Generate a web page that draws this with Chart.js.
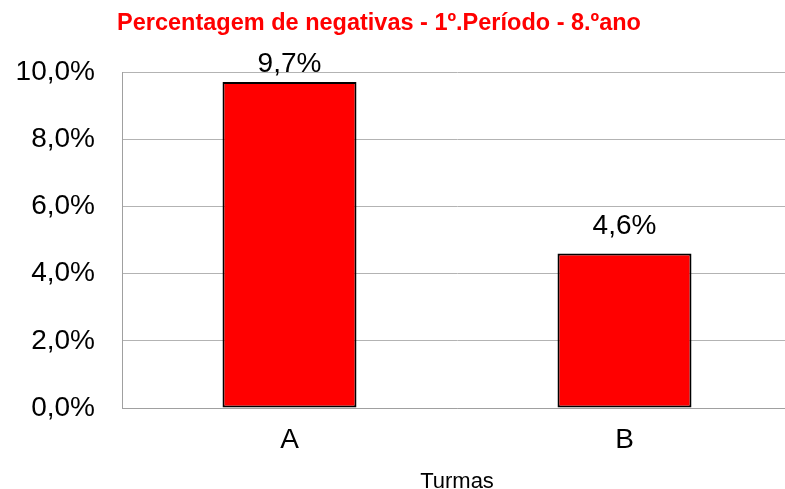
<!DOCTYPE html>
<html>
<head>
<meta charset="utf-8">
<script src="https://cdn.jsdelivr.net/npm/chart.js@4"></script>
<style>
  html, body { margin: 0; padding: 0; background: #fff; overflow: hidden; }
  #wrap { width: 800px; height: 489px; position: relative; }
</style>
</head>
<body>
<div id="wrap"><canvas id="negChart"></canvas></div>
<script>
// dados
var turmas = ["A", "B"];
var percNegativas = [9.7, 4.6];
var yTicks = [0, 2, 4, 6, 8, 10];
var tituloTxt = "Percentagem de negativas - 1º.Período - 8.ºano";

function fmtPct(v) {
    return v.toFixed(1).replace(".", ",") + "%";
}

Chart.defaults.font.family = "'Liberation Sans', Arial, sans-serif";
Chart.defaults.color = "#000";

// título desenhado à mão (não está centrado no gráfico)
var tituloPlugin = {
    id: "tituloPlugin",
    afterDraw: function (chart) {
        var c = chart.ctx;
        c.save();
        c.font = "bold 23.5px 'Liberation Sans', Arial, sans-serif";
        c.fillStyle = "#ff0000";
        c.textAlign = "center";
        c.textBaseline = "alphabetic";
        c.fillText(tituloTxt, 379, 30);
        c.restore();
    }
};

// rótulos de valor por cima das barras
var rotulosPlugin = {
    id: "rotulosPlugin",
    afterDatasetsDraw: function (chart) {
        var c = chart.ctx;
        var meta = chart.getDatasetMeta(0);
        c.save();
        c.font = "28px 'Liberation Sans', Arial, sans-serif";
        c.fillStyle = "#000";
        c.textAlign = "center";
        c.textBaseline = "alphabetic";
        meta.data.forEach(function (bar, i) {
            var y = Math.max(bar.y - 19, chart.chartArea.top);
            c.fillText(fmtPct(percNegativas[i]), bar.x, y);
        });
        c.restore();
    }
};

var ctx = document.getElementById("negChart").getContext("2d");

new Chart(ctx, {
    type: "bar",
    data: {
        labels: turmas,
        datasets: [{
            data: percNegativas,
            backgroundColor: "#ff0000",
            borderColor: "#000",
            borderWidth: 2,
            borderSkipped: false,
            barPercentage: 0.4,
            categoryPercentage: 1.0
        }]
    },
    options: {
        responsive: true,
        maintainAspectRatio: false,
        animation: false,
        layout: { padding: { left: 0, right: 8, top: 72, bottom: 0 } },
        plugins: {
            legend: { display: false },
            tooltip: { enabled: false }
        },
        scales: {
            y: {
                min: 0,
                max: 10,
                afterFit: function (s) { s.width = 122; },
                afterBuildTicks: function (s) {
                    s.ticks = yTicks.map(function (v) { return { value: v }; });
                },
                grid: { color: "#b3b3b3", lineWidth: 1, drawTicks: false },
                border: { color: "#a0a0a0", width: 1 },
                ticks: {
                    padding: 27,
                    font: { size: 28 },
                    callback: function (v) { return fmtPct(v); }
                }
            },
            x: {
                afterFit: function (s) { s.height = 81; },
                grid: { display: false, drawTicks: false },
                border: { color: "#a0a0a0", width: 1 },
                ticks: { padding: 15, font: { size: 28 } },
                title: {
                    display: true,
                    text: "Turmas",
                    font: { size: 22 },
                    padding: { top: 0, bottom: -6 }
                }
            }
        }
    },
    plugins: [tituloPlugin, rotulosPlugin]
});
</script>
</body>
</html>
